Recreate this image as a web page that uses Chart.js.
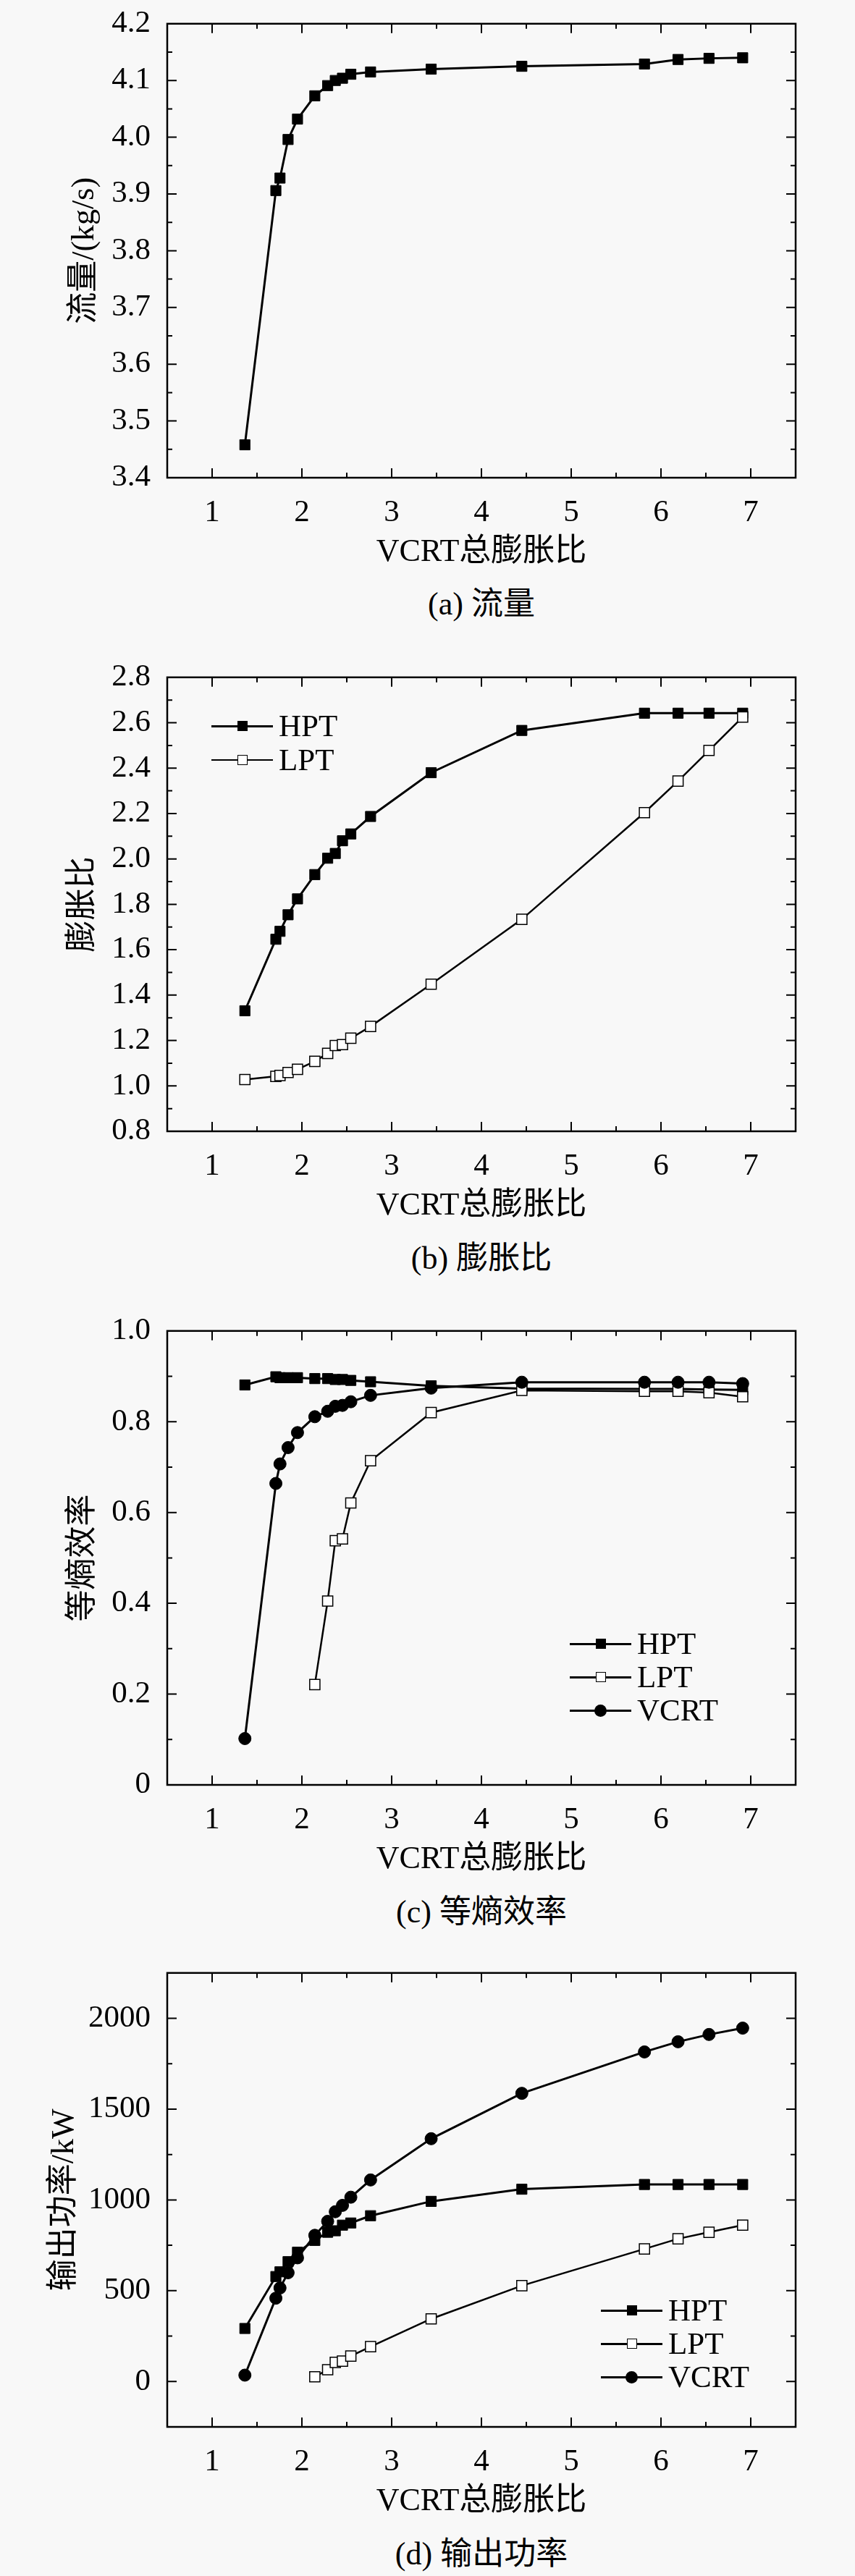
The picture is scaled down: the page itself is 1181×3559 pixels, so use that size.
<!DOCTYPE html>
<html>
<head>
<meta charset="utf-8">
<script src="https://cdn.jsdelivr.net/npm/chart.js@4.4.0/dist/chart.umd.min.js"></script>
<style>
  body { margin: 0; background: #f8f8f8; }
  #page { position: relative; width: 1181px; height: 3559px; overflow: hidden;
          font-family: "Liberation Serif", "Noto Sans CJK SC", serif; color: #000; }
  canvas { position: absolute; left: 0; }
  .caption { position: absolute; left: 231px; width: 868px; text-align: center;
             font-size: 44px; line-height: 52px; }
  .legend { position: absolute; font-size: 43px; }
  .legend .row { position: absolute; left: 0; height: 0; white-space: nowrap; }
  .legend .ln { position: absolute; left: 0; width: 85px; top: -1.5px; height: 3px; background: #000; }
  .legend .mk { position: absolute; left: 35.5px; top: -7px; width: 14px; height: 14px;
                background: #000; box-sizing: border-box; }
  .legend .mk.open { background: #fff; border: 1.5px solid #000; }
  .legend .mk.circ { border-radius: 50%; width: 17px; height: 17px; left: 34px; top: -8.5px; }
  .legend .tx { position: absolute; left: 93px; top: -26px; line-height: 52px; }
</style>
</head>
<body>
<div id="page">
  <canvas id="flowGraph" width="1181" height="802" style="top:-8px"></canvas>
  <div class="caption" style="top:809px">(a) 流量</div>

  <canvas id="ratioGraph" width="1181" height="802" style="top:895px"></canvas>
  <div class="legend" style="left:292px;top:1003px">
    <div class="row" style="top:0"><div class="ln"></div><div class="mk"></div><div class="tx">HPT</div></div>
    <div class="row" style="top:47px"><div class="ln" style="height:2px;top:-1px"></div><div class="mk open"></div><div class="tx">LPT</div></div>
  </div>
  <div class="caption" style="top:1713px">(b) 膨胀比</div>

  <canvas id="effGraph" width="1181" height="802" style="top:1798px"></canvas>
  <div class="legend" style="left:787px;top:2271px">
    <div class="row" style="top:0"><div class="ln"></div><div class="mk"></div><div class="tx">HPT</div></div>
    <div class="row" style="top:46px"><div class="ln"></div><div class="mk open"></div><div class="tx">LPT</div></div>
    <div class="row" style="top:92px"><div class="ln"></div><div class="mk circ"></div><div class="tx">VCRT</div></div>
  </div>
  <div class="caption" style="top:2616px">(c) 等熵效率</div>

  <canvas id="powerGraph" width="1181" height="802" style="top:2685px"></canvas>
  <div class="legend" style="left:830px;top:3192px">
    <div class="row" style="top:0"><div class="ln"></div><div class="mk"></div><div class="tx">HPT</div></div>
    <div class="row" style="top:46px"><div class="ln"></div><div class="mk open"></div><div class="tx">LPT</div></div>
    <div class="row" style="top:92px"><div class="ln"></div><div class="mk circ"></div><div class="tx">VCRT</div></div>
  </div>
  <div class="caption" style="top:3503px">(d) 输出功率</div>
</div>

<script>
// VCRT total expansion ratio, shared by all four plots
const totalRatio = [1.365, 1.71, 1.756, 1.846, 1.951, 2.144, 2.287, 2.372, 2.452, 2.545, 2.765, 3.44, 4.45, 5.816, 6.19, 6.535, 6.91];

// (a) mass flow, kg/s
const flow = [3.458, 3.906, 3.928, 3.996, 4.032, 4.073, 4.091, 4.100, 4.104, 4.111, 4.115, 4.120, 4.125, 4.129, 4.137, 4.139, 4.140];

// (b) expansion ratio
const hptRatio = [1.331, 1.646, 1.681, 1.754, 1.824, 1.931, 2.003, 2.024, 2.080, 2.110, 2.187, 2.380, 2.566, 2.642, 2.642, 2.642, 2.642];
const lptRatio = [1.028, 1.042, 1.046, 1.059, 1.073, 1.108, 1.143, 1.178, 1.182, 1.210, 1.262, 1.448, 1.734, 2.204, 2.343, 2.478, 2.625];

// (c) isentropic efficiency
const hptEff = [0.881, 0.899, 0.897, 0.897, 0.897, 0.895, 0.895, 0.893, 0.893, 0.891, 0.888, 0.879, 0.873, 0.872, 0.872, 0.871, 0.870];
const lptEff = [null, null, null, null, null, 0.221, 0.405, 0.538, 0.542, 0.621, 0.714, 0.820, 0.869, 0.867, 0.867, 0.864, 0.855];
const vcrtEff = [0.102, 0.664, 0.707, 0.743, 0.776, 0.811, 0.823, 0.834, 0.836, 0.844, 0.858, 0.874, 0.887, 0.887, 0.887, 0.887, 0.884];

// (d) output power, kW
const hptPower = [292, 578, 604, 660, 712, 777, 822, 830, 861, 873, 913, 992, 1059, 1085, 1085, 1085, 1085];
const lptPower = [null, null, null, null, null, 26, 65, 105, 112, 140, 192, 345, 528, 730, 786, 822, 861];
const vcrtPower = [35, 459, 515, 599, 681, 805, 882, 935, 970, 1015, 1110, 1337, 1587, 1815, 1871, 1911, 1946];

// tick labels
const xTicks = [1, 2, 3, 4, 5, 6, 7];
const flowTicks = [3.4, 3.5, 3.6, 3.7, 3.8, 3.9, 4.0, 4.1, 4.2];
const ratioTicks = [0.8, 1.0, 1.2, 1.4, 1.6, 1.8, 2.0, 2.2, 2.4, 2.6, 2.8];
const effTicks = [0, 0.2, 0.4, 0.6, 0.8, 1.0];
const powerTicks = [0, 500, 1000, 1500, 2000];

const FONT = "'Liberation Serif', 'Noto Sans CJK SC', serif";

// box around the plot with inward major/minor ticks on all four sides
const frameTicks = {
  id: 'frameTicks',
  afterDraw(chart) {
    const { ctx, chartArea: a, scales: { x, y } } = chart;
    const majorX = x.ticks.map(t => t.value);
    const majorY = y.ticks.map(t => t.value);
    const mids = vals => vals.slice(1).map((v, i) => (v + vals[i]) / 2);
    const minorX = mids(majorX).concat([majorX[0] - (majorX[1] - majorX[0]) / 2, majorX[majorX.length - 1] + (majorX[1] - majorX[0]) / 2]);
    const minorY = mids(majorY).concat([majorY[0] - (majorY[1] - majorY[0]) / 2, majorY[majorY.length - 1] + (majorY[1] - majorY[0]) / 2]);

    ctx.save();
    ctx.strokeStyle = '#000';
    ctx.lineWidth = 2;
    ctx.beginPath();
    const tx = (vals, len) => vals.forEach(v => {
      const px = x.getPixelForValue(v);
      if (px <= a.left + 2 || px >= a.right - 2) return;
      ctx.moveTo(px, a.bottom); ctx.lineTo(px, a.bottom - len);
      ctx.moveTo(px, a.top); ctx.lineTo(px, a.top + len);
    });
    const ty = (vals, len) => vals.forEach(v => {
      const py = y.getPixelForValue(v);
      if (py <= a.top + 2 || py >= a.bottom - 2) return;
      ctx.moveTo(a.left, py); ctx.lineTo(a.left + len, py);
      ctx.moveTo(a.right, py); ctx.lineTo(a.right - len, py);
    });
    tx(majorX, 13); tx(minorX, 7);
    ty(majorY, 13); ty(minorY, 7);
    ctx.stroke();
    ctx.lineWidth = 2.5;
    ctx.strokeRect(a.left, a.top, a.right - a.left, a.bottom - a.top);
    ctx.restore();
  }
};

function series(values, kind) {
  const ds = {
    data: totalRatio.map((x, i) => ({ x, y: values[i] })),
    borderColor: '#000',
    borderWidth: 3,
    pointBorderColor: '#000',
    pointBackgroundColor: '#000',
    pointBorderWidth: 1,
    pointStyle: 'rect',
    pointRadius: 10,
    order: 2
  };
  if (kind === 'LPT') {
    ds.borderWidth = 2.5;
    ds.pointBackgroundColor = '#fff';
    ds.pointBorderWidth = 1.5;
    ds.order = 1;
  } else if (kind === 'VCRT') {
    ds.pointStyle = 'circle';
    ds.pointRadius = 8.5;
    ds.order = 0;
  }
  return ds;
}

function createGraph(id, datasets, yMin, yMax, yTicks, yTitle, titleCenter, fmt) {
  const ctx = document.getElementById(id).getContext('2d');
  return new Chart(ctx, {
    type: 'line',
    data: { datasets },
    plugins: [frameTicks],
    options: {
      responsive: false,
      animation: false,
      layout: { padding: { top: 30, right: 82, left: 0, bottom: 0 } },
      plugins: { legend: { display: false }, tooltip: { enabled: false } },
      scales: {
        x: {
          type: 'linear',
          min: 0.5,
          max: 7.5,
          afterBuildTicks: s => { s.ticks = xTicks.map(v => ({ value: v })); },
          afterFit: s => { s.height = 134; },
          grid: { display: false },
          border: { display: false },
          ticks: { color: '#000', font: { family: FONT, size: 43 }, padding: 15, maxRotation: 0, autoSkip: false,
                   callback: v => String(v) },
          title: { display: true, text: 'VCRT总膨胀比', color: '#000', font: { family: FONT, size: 44 },
                   padding: { top: 0, bottom: 4 } }
        },
        y: {
          min: yMin,
          max: yMax,
          afterBuildTicks: s => { s.ticks = yTicks.map(v => ({ value: v })); },
          afterFit: s => { s.width = 231; },
          grid: { display: false },
          border: { display: false },
          ticks: { color: '#000', font: { family: FONT, size: 43 }, padding: 15, autoSkip: false, callback: fmt },
          title: { display: true, text: yTitle, color: '#000', font: { family: FONT, size: 44 },
                   padding: { top: titleCenter - 26.4, bottom: 0 } }
        }
      }
    }
  });
}

const oneDecimal = v => v.toFixed(1);

const flowGraph = createGraph('flowGraph', [series(flow, 'HPT')],
  3.4, 4.2, flowTicks, '流量/(kg/s)', 117, oneDecimal);

const ratioGraph = createGraph('ratioGraph', [series(hptRatio, 'HPT'), series(lptRatio, 'LPT')],
  0.8, 2.8, ratioTicks, '膨胀比', 115, oneDecimal);

const effGraph = createGraph('effGraph', [series(hptEff, 'HPT'), series(lptEff, 'LPT'), series(vcrtEff, 'VCRT')],
  0, 1.0, effTicks, '等熵效率', 115, v => (v === 0 ? '0' : v.toFixed(1)));

const powerGraph = createGraph('powerGraph', [series(hptPower, 'HPT'), series(lptPower, 'LPT'), series(vcrtPower, 'VCRT')],
  -250, 2250, powerTicks, '输出功率/kW', 89, v => String(v));
</script>
</body>
</html>
